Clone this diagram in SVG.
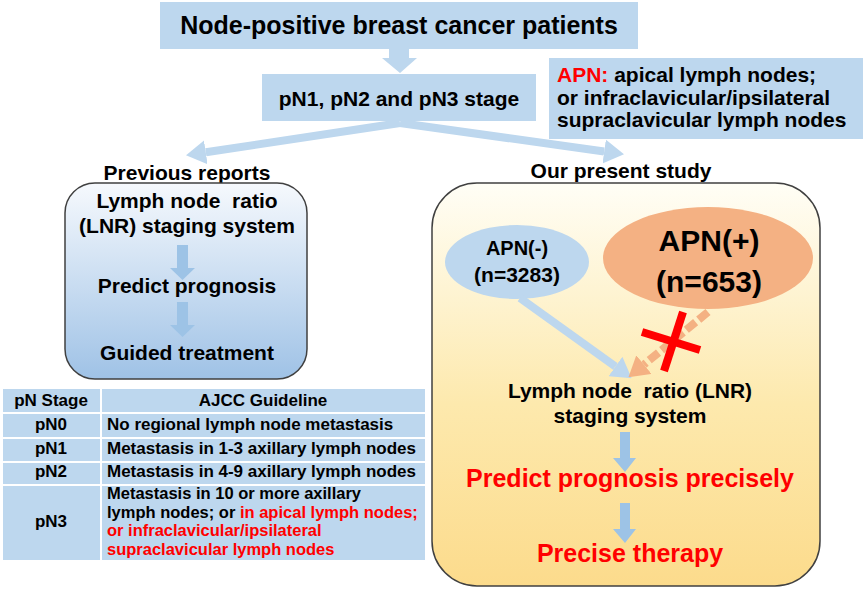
<svg xmlns="http://www.w3.org/2000/svg" width="865" height="589" viewBox="0 0 865 589">
<defs>
<linearGradient id="gBlue" x1="0" y1="0" x2="0" y2="1">
<stop offset="0" stop-color="#f6f9fd"/><stop offset="1" stop-color="#9fc2e6"/>
</linearGradient>
<linearGradient id="gYel" x1="0" y1="0" x2="0" y2="1">
<stop offset="0" stop-color="#fffef6"/><stop offset="0.55" stop-color="#fde9ad"/><stop offset="1" stop-color="#fcdb8c"/>
</linearGradient>
<marker id="ahB" markerUnits="userSpaceOnUse" markerWidth="20" markerHeight="24" viewBox="0 0 20 24" refX="0" refY="12" orient="auto"><path d="M0,0 L20,12 L0,24 z" fill="#bdd7ee"/></marker>
<marker id="ahO" markerUnits="userSpaceOnUse" markerWidth="20" markerHeight="24" viewBox="0 0 20 24" refX="0" refY="12" orient="auto"><path d="M0,0 L20,12 L0,24 z" fill="#f4b183"/></marker>
</defs>
<style>
text{font-family:"Liberation Sans",Arial,sans-serif;font-weight:bold;fill:#000;white-space:pre}
.c{text-anchor:middle}
.red{fill:#ff0000}
.box{fill:#bdd7ee}
.blk{fill:#9dc3e6}
.cell{fill:#bdd7ee;stroke:#fff;stroke-width:2}
.t17{font-size:17px}
.t16{font-size:16.5px}
.t21{font-size:21px}
.round{stroke:#404040;stroke-width:1.5}
</style>

<g id="node-top">
<rect class="box" x="160" y="2" width="478" height="47"/>
<text class="c" x="399" y="34" font-size="25">Node-positive breast cancer patients</text>
</g>
<g id="node-stage">
<rect class="box" x="262" y="74" width="274" height="47"/>
<text class="c t21" x="399" y="106">pN1, pN2 and pN3 stage</text>
</g>
<g id="node-apn-def">
<rect class="box" x="549" y="58" width="314" height="81"/>
<text class="t21" x="557" y="82"><tspan class="red">APN:</tspan> apical lymph nodes;</text>
<text class="t21" x="557" y="105">or infraclavicular/ipsilateral</text>
<text class="t21" x="557" y="127">supraclavicular lymph nodes</text>
</g>

<g id="node-previous">
<text class="c t21" x="187" y="180">Previous reports</text>
<rect class="round" x="65" y="183" width="242" height="196" rx="30" fill="url(#gBlue)"/>
<text class="c t21" x="187" y="208" xml:space="preserve">Lymph node  ratio</text>
<text class="c t21" x="187" y="233">(LNR) staging system</text>
<polygon class="blk" points="177,245 188,245 188,268 195,268 182.5,280 170,268 177,268"/>
<text class="c t21" x="187" y="293">Predict prognosis</text>
<polygon class="blk" points="177,302 188,302 188,325 195,325 182.5,337 170,325 177,325"/>
<text class="c t21" x="187" y="360">Guided treatment</text>
</g>

<g id="node-present">
<text class="c t21" x="621" y="178">Our present study</text>
<rect class="round" x="432" y="183" width="388" height="403" rx="45" fill="url(#gYel)"/>
</g>
<g id="node-apn-neg">
<ellipse cx="517" cy="262" rx="72" ry="37" fill="#bdd7ee"/>
<text class="c" x="517" y="255" font-size="20">APN(-)</text>
<text class="c t21" x="517" y="282">(n=3283)</text>
</g>
<g id="node-apn-pos">
<ellipse cx="708" cy="258" rx="105" ry="51" fill="#f4b183"/>
<text class="c" x="709" y="251" font-size="30">APN(+)</text>
<text class="c" x="709" y="292" font-size="30">(n=653)</text>
</g>
<g id="node-lnr">
<text class="c t21" x="630" y="398" xml:space="preserve">Lymph node  ratio (LNR)</text>
<text class="c t21" x="630" y="423">staging system</text>
<polygon class="blk" points="620,432 630,432 630,458 636,458 625,472 613,458 620,458"/>
</g>
<g id="node-predict">
<text class="c red" x="630" y="487" font-size="25">Predict prognosis precisely</text>
<polygon class="blk" points="620,503 630,503 630,529 636,529 625,543 613,529 620,529"/>
</g>
<g id="node-therapy">
<text class="c red" x="630" y="562" font-size="25">Precise therapy</text>
</g>

<g id="connectors">
<polygon class="box" points="389,49 409,49 409,58 417,58 400,73 382,58 389,58"/>
<line x1="400" y1="123" x2="205.8" y2="152.3" stroke="#bdd7ee" stroke-width="8" marker-end="url(#ahB)"/>
<line x1="400" y1="123" x2="604.2" y2="151.5" stroke="#bdd7ee" stroke-width="8" marker-end="url(#ahB)"/>
<line x1="520" y1="298" x2="615.4" y2="366.5" stroke="#bdd7ee" stroke-width="8" marker-end="url(#ahB)"/>
<line x1="708" y1="312" x2="643.9" y2="364.6" stroke="#f4b183" stroke-width="8" stroke-dasharray="12 4" marker-end="url(#ahO)"/>
</g>
<g id="cross">
<line x1="642" y1="332" x2="700" y2="350" stroke="#ff0000" stroke-width="8"/>
<line x1="683" y1="312" x2="664" y2="371" stroke="#ff0000" stroke-width="8"/>
</g>

<g id="table">
<rect class="cell" x="2" y="388" width="99" height="25"/>
<rect class="cell" x="101" y="388" width="325" height="25"/>
<rect class="cell" x="2" y="413" width="99" height="25"/>
<rect class="cell" x="101" y="413" width="325" height="25"/>
<rect class="cell" x="2" y="438" width="99" height="24"/>
<rect class="cell" x="101" y="438" width="325" height="24"/>
<rect class="cell" x="2" y="462" width="99" height="23"/>
<rect class="cell" x="101" y="462" width="325" height="23"/>
<rect class="cell" x="2" y="485" width="99" height="76"/>
<rect class="cell" x="101" y="485" width="325" height="76"/>
<text class="c t17" x="51" y="406">pN Stage</text>
<text class="c t17" x="263" y="406">AJCC Guideline</text>
<text class="c t17" x="51" y="430">pN0</text>
<text class="t17" x="107" y="430">No regional lymph node metastasis</text>
<text class="c t17" x="51" y="454">pN1</text>
<text class="t17" x="107" y="454">Metastasis in 1-3 axillary lymph nodes</text>
<text class="c t17" x="51" y="477">pN2</text>
<text class="t17" x="107" y="477">Metastasis in 4-9 axillary lymph nodes</text>
<text class="c t17" x="51" y="527">pN3</text>
<text class="t16" x="107" y="499">Metastasis in 10 or more axillary</text>
<text class="t16" x="107" y="517.5">lymph nodes; or <tspan class="red">in apical lymph nodes;</tspan></text>
<text class="t16 red" x="107" y="536">or infraclavicular/ipsilateral</text>
<text class="t16 red" x="107" y="554.5">supraclavicular lymph nodes</text>
</g>
</svg>
